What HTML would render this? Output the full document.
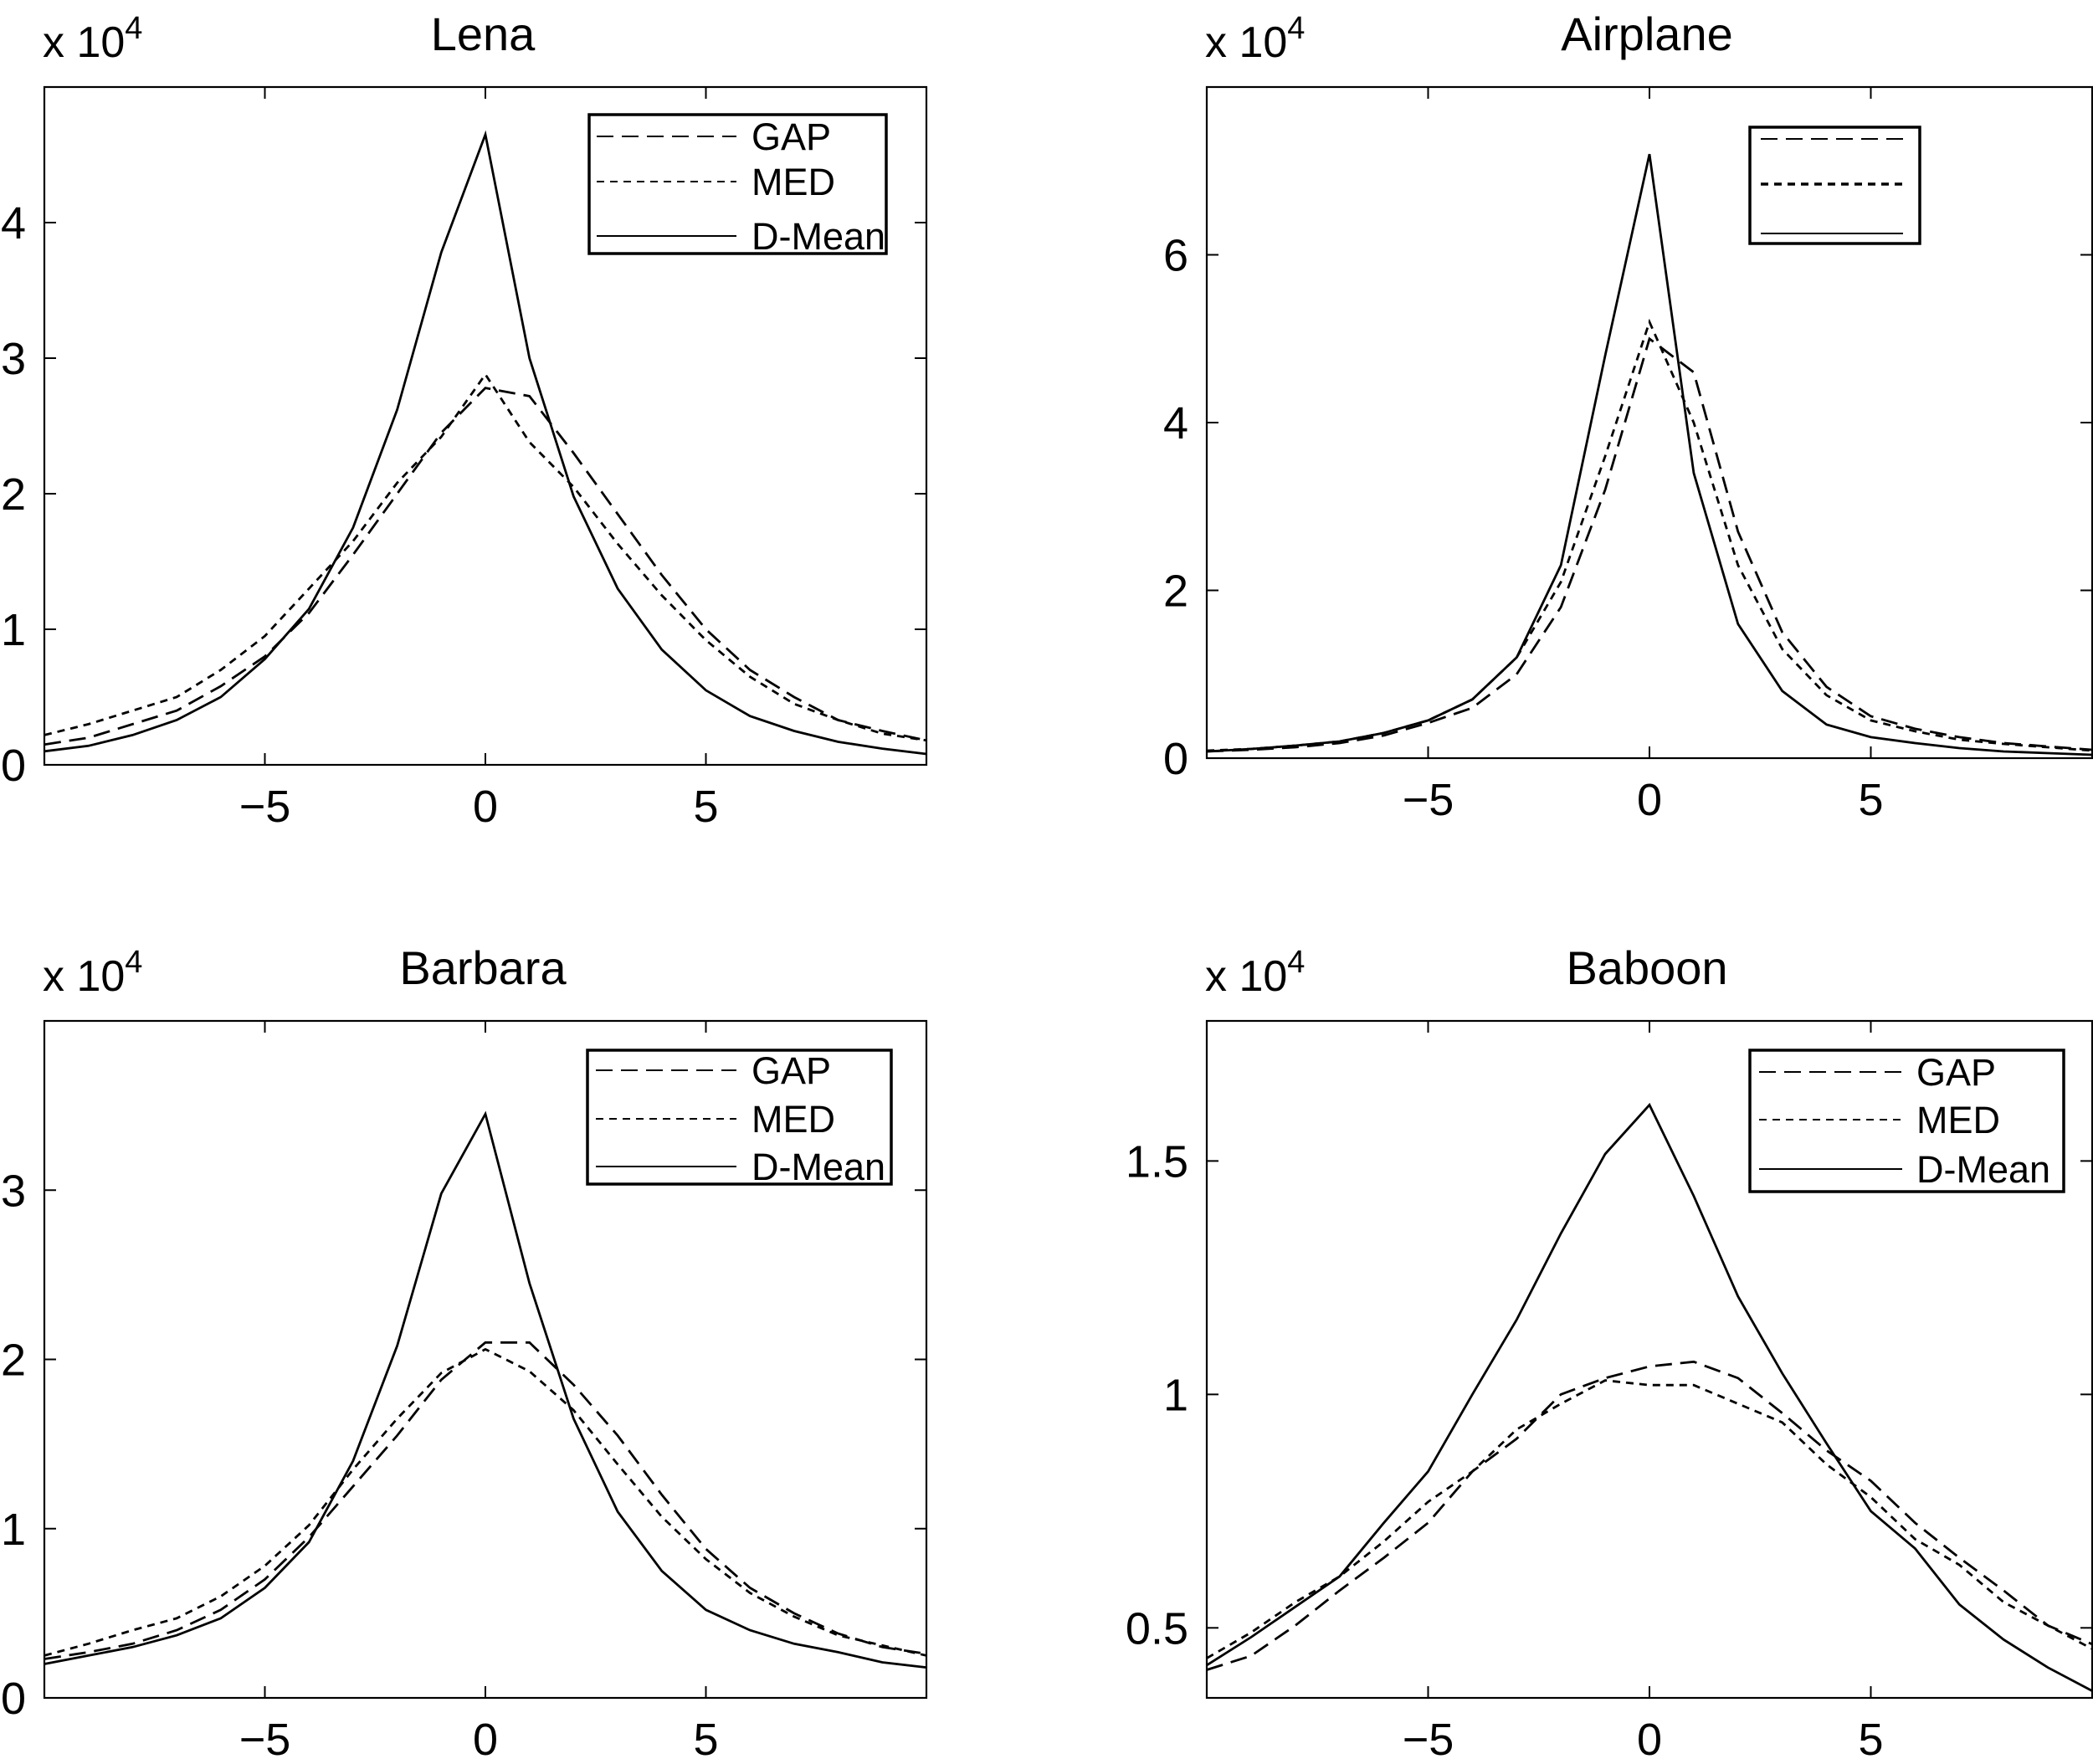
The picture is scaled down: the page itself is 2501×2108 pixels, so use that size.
<!DOCTYPE html>
<html><head><meta charset="utf-8"><style>
html,body{margin:0;padding:0;background:#fff;}
svg{display:block;}
text{font-family:"Liberation Sans",sans-serif;fill:#000;}
</style></head><body>
<svg id="fig" width="2501" height="2108" viewBox="0 0 2501 2108" xmlns="http://www.w3.org/2000/svg"></svg>
<script>
const xs = [-10,-9,-8,-7,-6,-5,-4,-3,-2,-1,0,1,2,3,4,5,6,7,8,9,10];
const xTicks = [-5,0,5];
const seriesNames = ["GAP","MED","D-Mean"];

const lenaGap  = [0.15,0.2,0.3,0.4,0.58,0.8,1.12,1.55,2.0,2.45,2.78,2.72,2.3,1.85,1.4,1.0,0.7,0.5,0.33,0.25,0.18];
const lenaMed  = [0.22,0.3,0.4,0.5,0.7,0.95,1.3,1.65,2.08,2.42,2.88,2.38,2.05,1.63,1.25,0.92,0.65,0.45,0.33,0.23,0.18];
const lenaDm   = [0.1,0.14,0.22,0.33,0.5,0.78,1.15,1.75,2.62,3.78,4.65,3.0,1.98,1.3,0.85,0.55,0.36,0.25,0.17,0.12,0.08];
const lenaYTicks = [0,1,2,3,4];

const airGap = [0.08,0.1,0.13,0.18,0.27,0.42,0.6,1.0,1.8,3.2,5.0,4.6,2.7,1.5,0.85,0.5,0.35,0.25,0.18,0.14,0.1];
const airMed = [0.09,0.11,0.15,0.2,0.3,0.45,0.7,1.2,2.1,3.6,5.2,4.0,2.3,1.3,0.75,0.45,0.32,0.22,0.17,0.13,0.09];
const airDm  = [0.08,0.11,0.15,0.2,0.3,0.45,0.7,1.2,2.3,4.8,7.2,3.4,1.6,0.8,0.4,0.25,0.18,0.12,0.08,0.06,0.04];
const airYTicks = [0,2,4,6];

const barGap = [0.23,0.27,0.32,0.4,0.52,0.7,0.95,1.25,1.55,1.88,2.1,2.1,1.85,1.55,1.2,0.88,0.65,0.5,0.38,0.3,0.26];
const barMed = [0.25,0.32,0.4,0.47,0.6,0.78,1.02,1.35,1.65,1.92,2.06,1.93,1.7,1.38,1.07,0.82,0.62,0.48,0.37,0.31,0.25];
const barDm  = [0.2,0.25,0.3,0.37,0.47,0.65,0.92,1.4,2.08,2.98,3.45,2.45,1.65,1.1,0.75,0.52,0.4,0.32,0.27,0.21,0.18];
const barYTicks = [0,1,2,3];

const babGap = [0.41,0.44,0.505,0.58,0.65,0.725,0.835,0.905,1.0,1.035,1.06,1.07,1.035,0.96,0.88,0.815,0.725,0.65,0.58,0.505,0.465];
const babMed = [0.435,0.49,0.555,0.61,0.685,0.77,0.835,0.925,0.98,1.03,1.02,1.02,0.98,0.94,0.85,0.78,0.69,0.635,0.555,0.505,0.455];
const babDm  = [0.42,0.48,0.545,0.61,0.725,0.835,1.0,1.16,1.345,1.515,1.62,1.425,1.21,1.045,0.895,0.75,0.67,0.55,0.475,0.415,0.365];
const babYTicks = [0.5,1,1.5];
const babYLabels = ["0.5","1","1.5"];

const NS="http://www.w3.org/2000/svg";
const svg=document.getElementById('fig');
function mk(tag,attrs,parent){const e=document.createElementNS(NS,tag);for(const k in attrs)e.setAttribute(k,attrs[k]);(parent||svg).appendChild(e);return e;}
const dashes=["20 10","9 7",""];

function panel(cfg){
  const g=mk('g',{});
  
  
  const L=cfg.box[0],R=cfg.box[1],T=cfg.box[2],B=cfg.box[3];
  const sx=v=>L+(v+10)/20*(R-L);
  const sy=v=>B-(v-cfg.ylim[0])/(cfg.ylim[1]-cfg.ylim[0])*(B-T);
  const sets=[cfg.gap,cfg.med,cfg.dm];
  const keys=['gap','med','dmean'];
  sets.forEach((arr,i)=>{
    const d=arr.map((v,j)=>(j?'L':'M')+sx(xs[j]).toFixed(1)+' '+sy(v).toFixed(1)).join(' ');
    const p=mk('path',{d:d,fill:'none',stroke:'#000','stroke-width':2.8,'stroke-dasharray':dashes[i]},g);
    
    
  });
  const box=mk('rect',{x:L,y:T,width:R-L,height:B-T,fill:'none',stroke:'#000','stroke-width':2.2},g);
  
  
  xTicks.forEach(t=>{
    const x=sx(t);
    mk('line',{x1:x,y1:B,x2:x,y2:B-14,stroke:'#000','stroke-width':2},g);
    mk('line',{x1:x,y1:T,x2:x,y2:T+14,stroke:'#000','stroke-width':2},g);
    const tx=mk('text',{x:x,y:B+68,'font-size':54,'text-anchor':'middle'},g);
    tx.textContent=t<0?'\u2212'+Math.abs(t):String(t);
    
    
  });
  cfg.yt.forEach((t,i)=>{
    const y=sy(t);
    mk('line',{x1:L,y1:y,x2:L+14,y2:y,stroke:'#000','stroke-width':2},g);
    mk('line',{x1:R,y1:y,x2:R-14,y2:y,stroke:'#000','stroke-width':2},g);
    const ty=mk('text',{x:L-22,y:y+19,'font-size':54,'text-anchor':'end'},g);
    ty.textContent=cfg.yl?cfg.yl[i]:String(t);
    
    
  });
  const title=mk('text',{x:(L+R)/2-3,y:T-44,'font-size':56,'text-anchor':'middle'},g);
  title.textContent=cfg.title;
  
  
  const ex=mk('text',{x:L-2,y:T-36,'font-size':52},g);
  ex.innerHTML='x 10<tspan dy="-22" font-size="38">4</tspan>';
  
  
  const lg=cfg.leg;
  const lgG=mk('g',{},g);
  
  
  mk('rect',{x:lg.x,y:lg.y,width:lg.w,height:lg.h,fill:'#fff',stroke:'#000','stroke-width':3.5},lgG);
  lg.rows.forEach((ry,i)=>{
    const le=mk('line',{x1:lg.lx1,y1:ry,x2:lg.lx2,y2:ry,stroke:'#000','stroke-width':i==1&&!lg.text?3.5:2,'stroke-dasharray':dashes[i]},lgG);
    
    
    if(lg.text){
      const t=mk('text',{x:lg.tx,y:ry+16,'font-size':45},lgG);
      t.textContent=seriesNames[i];
    }
  });
}

panel({name:'lena',title:'Lena',box:[53,1107,104,914],ylim:[0,5],gap:lenaGap,med:lenaMed,dm:lenaDm,yt:lenaYTicks,
  leg:{x:704,y:137,w:355,h:166,rows:[163,217,282],lx1:713,lx2:880,tx:898,text:true}});
panel({name:'airplane',title:'Airplane',box:[1442,2500,104,906],ylim:[0,8],gap:airGap,med:airMed,dm:airDm,yt:airYTicks,
  leg:{x:2091,y:152,w:203,h:139,rows:[166,220,279],lx1:2104,lx2:2274,tx:0,text:false}});
panel({name:'barbara',title:'Barbara',box:[53,1107,1220,2029],ylim:[0,4],gap:barGap,med:barMed,dm:barDm,yt:barYTicks,
  leg:{x:702,y:1255,w:363,h:160,rows:[1279,1337,1394],lx1:712,lx2:880,tx:898,text:true}});
panel({name:'baboon',title:'Baboon',box:[1442,2500,1220,2029],ylim:[0.35,1.8],gap:babGap,med:babMed,dm:babDm,yt:babYTicks,yl:babYLabels,
  leg:{x:2091,y:1255,w:375,h:169,rows:[1281,1338,1397],lx1:2102,lx2:2273,tx:2290,text:true}});
</script>
</body></html>
